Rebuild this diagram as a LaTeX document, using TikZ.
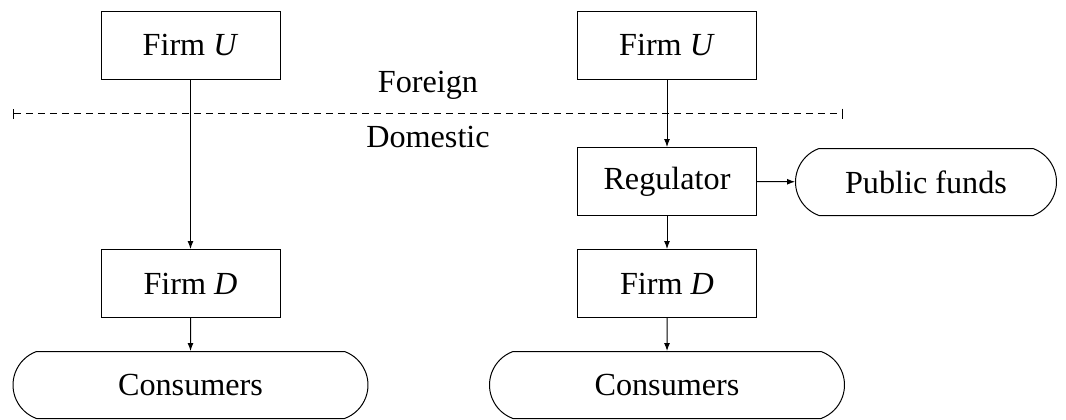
\documentclass[tikz,border=0pt]{standalone}
\usepackage{fontspec}
\setmainfont{Liberation Serif}
\usetikzlibrary{shapes.misc,arrows.meta}
\begin{document}
\begin{tikzpicture}[x=0.5pt,y=-0.5pt,
  every node/.style={font=\fontsize{16.1}{19}\selectfont, line width=0.5pt},
  boxnode/.style={draw, rectangle, minimum width=89.5pt, minimum height=34pt, inner sep=0pt},
  pillnode/.style={draw, rounded rectangle, rounded rectangle arc length=140, minimum height=33.5pt, inner sep=0pt},
  conn/.style={line width=0.5pt, -{Latex[length=4pt,width=3pt]}},
  divider/.style={line width=0.5pt, dashed, dash pattern=on 3.5pt off 2.5pt, {Bar[width=5pt,line width=0.5pt]}-{Bar[width=5pt,line width=0.5pt]}}]
\useasboundingbox (0,0) rectangle (1066,419);
% left column
\node[boxnode] (u1) at (190.5,45) {Firm \textit{U}};
\node[boxnode] (d1) at (190.5,283.5) {Firm \textit{D}};
\node[pillnode, minimum width=177.5pt] (c1) at (190.5,385) {Consumers};
% right column
\node[boxnode] (u2) at (667,45) {Firm \textit{U}};
\node[boxnode] (r2) at (667,181.5) {Regulator};
\node[boxnode] (d2) at (667,283.5) {Firm \textit{D}};
\node[pillnode, minimum width=177.5pt] (c2) at (667,385) {Consumers};
\node[pillnode, minimum width=130.5pt] (pf) at (926,182) {Public funds};
% divider
\coordinate (dl) at (13,113.5);
\coordinate (dr) at (843,113.5);
\draw[divider] (dl) -- (dr);
\node (fo) at (428,85) {Foreign};
\node (do) at (428,137) {Domestic};
% connectors
\draw[conn] (u1) -- (d1);
\draw[conn] (d1) -- (c1);
\draw[conn] (u2) -- (r2);
\draw[conn] (r2) -- (d2);
\draw[conn] (d2) -- (c2);
\draw[conn] (r2) -- (pf);
\end{tikzpicture}
\end{document}
